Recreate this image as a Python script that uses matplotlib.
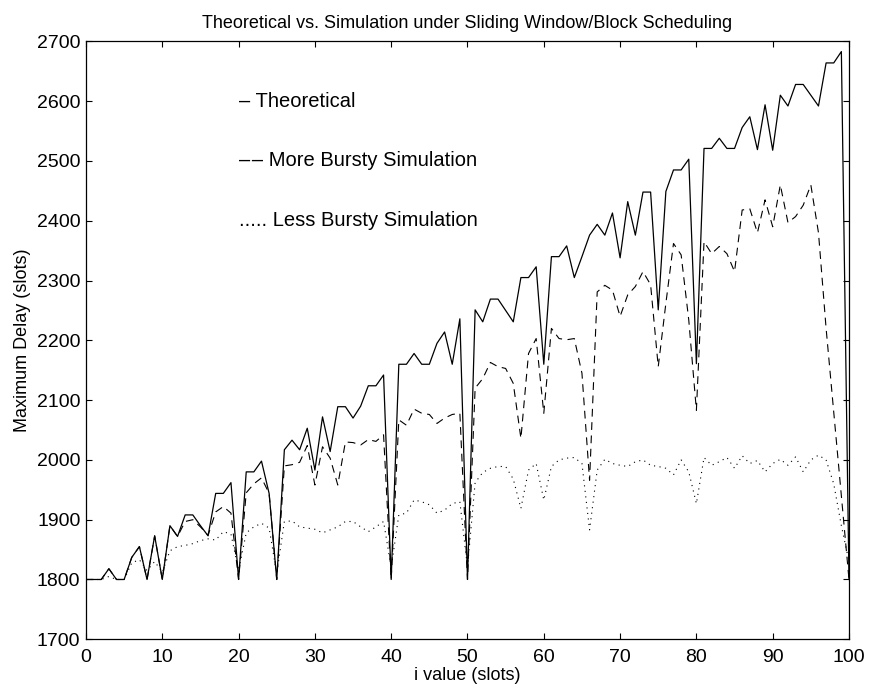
import numpy as np
import matplotlib.pyplot as plt

plt.rcParams['font.family'] = ['Liberation Sans', 'DejaVu Sans']

# i value (slots)
i_vals = list(range(0, 101))

# theoretical maximum delay
theory = [1800, 1800, 1800, 1818, 1800, 1800, 1837, 1855, 1800, 1873,
          1800, 1890, 1872, 1908, 1908, 1890, 1873, 1944, 1944, 1962,
          1800, 1980, 1980, 1998, 1944, 1800, 2017, 2033, 2017, 2053,
          1983, 2072, 2014, 2089, 2089, 2070, 2090, 2124, 2124, 2142,
          1800, 2160, 2160, 2178, 2160, 2160, 2195, 2214, 2160, 2236,
          1800, 2251, 2231, 2269, 2269, 2250, 2231, 2305, 2305, 2323,
          2160, 2340, 2340, 2358, 2305, 2340, 2376, 2394, 2376, 2413,
          2338, 2432, 2376, 2448, 2448, 2251, 2449, 2485, 2485, 2503,
          2161, 2521, 2521, 2538, 2521, 2521, 2556, 2574, 2519, 2594,
          2518, 2610, 2592, 2628, 2628, 2610, 2592, 2664, 2664, 2683,
          1800]

# simulation, more bursty traffic
more_bursty = [1800, 1800, 1800, 1818, 1800, 1800, 1837, 1855, 1800, 1873,
               1800, 1890, 1872, 1897, 1900, 1888, 1874, 1913, 1922, 1911,
               1800, 1945, 1960, 1970, 1944, 1800, 1990, 1992, 1996, 2024,
               1958, 2022, 2003, 1958, 2030, 2029, 2025, 2034, 2031, 2042,
               1800, 2067, 2058, 2085, 2078, 2076, 2061, 2070, 2076, 2078,
               1800, 2120, 2136, 2163, 2156, 2153, 2128, 2036, 2178, 2203,
               2078, 2220, 2203, 2201, 2203, 2145, 1966, 2281, 2292, 2284,
               2240, 2276, 2290, 2315, 2293, 2156, 2262, 2362, 2343, 2234,
               2083, 2365, 2345, 2357, 2345, 2315, 2418, 2420, 2380, 2435,
               2390, 2460, 2397, 2407, 2426, 2460, 2380, 2220, 2080, 1940,
               1800]

# simulation, less bursty traffic
less_bursty = [1800, 1800, 1800, 1805, 1800, 1800, 1828, 1833, 1815, 1830,
               1812, 1848, 1855, 1857, 1860, 1865, 1868, 1866, 1880, 1876,
               1815, 1878, 1888, 1894, 1886, 1810, 1897, 1898, 1888, 1886,
               1884, 1878, 1883, 1888, 1897, 1897, 1888, 1880, 1888, 1897,
               1820, 1908, 1911, 1933, 1930, 1925, 1911, 1916, 1927, 1930,
               1820, 1962, 1979, 1986, 1989, 1989, 1968, 1919, 1983, 1994,
               1933, 1989, 2000, 2003, 2004, 1994, 1883, 1983, 2001, 1994,
               1991, 1989, 1997, 2000, 1991, 1989, 1986, 1975, 2000, 1980,
               1927, 2004, 1991, 1997, 2004, 1986, 2007, 1994, 1999, 1980,
               1994, 2001, 1991, 2005, 1980, 2000, 2008, 2000, 1960, 1890,
               1830]

fig = plt.figure(figsize=(8.73, 6.96), dpi=100)
ax = fig.add_axes([0.0985, 0.0815, 0.874, 0.859])

ax.plot(i_vals, theory, color='black', linewidth=0.9)
ax.plot(i_vals, more_bursty, color='black', linewidth=0.8, linestyle=(0, (7, 5)))
ax.plot(i_vals, less_bursty, color='black', linewidth=0.8, linestyle=(0, (1, 4)))

# text legend inside the axes
ax.text(20, 2600, '\u2013 Theoretical', fontsize=14.5, va='center')
ax.text(20, 2500, '\u2013\u200a\u2013 More Bursty Simulation', fontsize=14.5, va='center')
ax.text(20, 2400, '..... Less Bursty Simulation', fontsize=14.5, va='center')

ax.set_xlim(0, 100)
ax.set_ylim(1700, 2700)
ax.set_xticks(np.arange(0, 101, 10))
ax.set_yticks(np.arange(1700, 2701, 100))
ax.tick_params(direction='in', top=True, right=True, length=4.5, width=0.8,
               labelsize=14)
ax.tick_params(axis='x', pad=7)
ax.tick_params(axis='y', pad=4)
for s in ax.spines.values():
    s.set_linewidth(0.9)

ax.set_title('Theoretical vs. Simulation under Sliding Window/Block Scheduling',
             fontsize=13, pad=10)
ax.set_xlabel('i value (slots)', fontsize=13, labelpad=1)
ax.set_ylabel('Maximum Delay (slots)', fontsize=13, labelpad=4)

plt.savefig('out.png', dpi=100)
